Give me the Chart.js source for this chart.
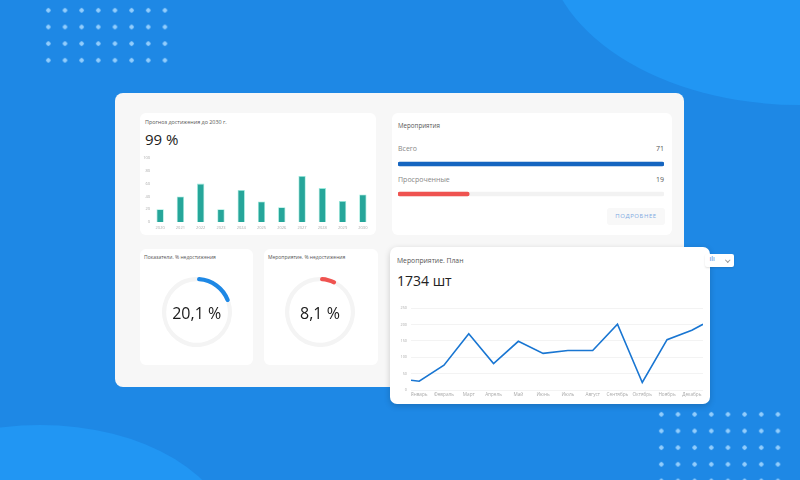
<!DOCTYPE html>
<html>
<head>
<meta charset="utf-8">
<script src="https://cdn.jsdelivr.net/npm/chart.js@4.4.0/dist/chart.umd.min.js"></script>
<style>
  html, body { margin: 0; padding: 0; }
  body { width: 800px; height: 480px; overflow: hidden; position: relative; background: #1e88e5; font-family: 'Open Sans', sans-serif; }
  .abs { position: absolute; }
  .blob { border-radius: 50%; background: #2196f3; }
  .dots { background-image: radial-gradient(circle, #92cdfc 1.9px, transparent 2.4px); background-size: 16.67px 16.67px; }
  .panel { left: 115px; top: 93px; width: 569px; height: 294px; background: #f7f7f7; border-radius: 8px; }
  .card { background: #fff; border-radius: 6px; }
  .txt { white-space: nowrap; line-height: 1.2; }
  canvas { position: absolute; }
</style>
</head>
<body>
<div class="abs blob" style="left:545px;top:-225px;width:510px;height:330px;"></div>
<div class="abs blob" style="left:-150px;top:425px;width:380px;height:230px;"></div>
<div class="abs dots" style="left:40px;top:2.4px;width:133.4px;height:66.7px;"></div>
<div class="abs dots" style="left:653.4px;top:405.7px;width:133.4px;height:83.4px;"></div>

<div class="abs panel"></div>
<div class="abs card" style="left:140px;top:113px;width:236px;height:122px;"></div>
<div class="abs card" style="left:392px;top:113px;width:280px;height:122px;"></div>
<div class="abs card" style="left:140px;top:249px;width:113px;height:116px;"></div>
<div class="abs card" style="left:264px;top:249px;width:114px;height:116px;"></div>
<div class="abs card" style="left:390px;top:247px;width:320px;height:157px;border-radius:7px;box-shadow:0 2px 6px rgba(0,0,0,0.18);"></div>

<!-- bar card -->
<div class="abs txt" style="left:145px;top:119px;font-size:5.4px;color:#555;">Прогноз достижения до 2030 г.</div>
<div class="abs txt" style="left:145px;top:130px;font-size:15px;color:#222;">99 %</div>
<canvas id="barChart" width="238" height="84" style="left:138px;top:150px;"></canvas>

<!-- events card -->
<div class="abs txt" style="left:398px;top:122px;font-size:6.2px;color:#555;">Мероприятия</div>
<div class="abs txt" id="lbl0" style="left:398px;top:145px;font-size:7px;color:#888;"></div>
<div class="abs txt" id="val0" style="left:600px;width:64px;text-align:right;top:145px;font-size:7px;color:#555;"></div>
<canvas id="prog0" width="266" height="6" style="left:398px;top:161px;"></canvas>
<div class="abs txt" id="lbl1" style="left:398px;top:175.5px;font-size:7px;color:#888;"></div>
<div class="abs txt" id="val1" style="left:600px;width:64px;text-align:right;top:175.5px;font-size:7px;color:#555;"></div>
<canvas id="prog1" width="266" height="6" style="left:398px;top:191px;"></canvas>
<div class="abs" style="left:607px;top:208px;width:58px;height:17px;background:#f8f8f8;border-radius:3px;"></div>
<div class="abs txt" style="left:607px;top:213px;width:58px;text-align:center;font-size:6px;color:#7eaae2;letter-spacing:0.6px;">ПОДРОБНЕЕ</div>

<!-- gauges -->
<div class="abs txt" id="gt0" style="left:144px;top:254px;font-size:5px;color:#555;"></div>
<div class="abs txt" id="gt1" style="left:268px;top:254px;font-size:5px;color:#555;"></div>
<canvas id="gauge0" width="70" height="70" style="left:161.7px;top:276.7px;"></canvas>
<canvas id="gauge1" width="70" height="70" style="left:285px;top:276.7px;"></canvas>
<div class="abs txt" id="gv0" style="left:146.7px;width:100px;text-align:center;top:303.5px;font-size:16px;color:#1a1a1a;"></div>
<div class="abs txt" id="gv1" style="left:270px;width:100px;text-align:center;top:303.5px;font-size:16px;color:#1a1a1a;"></div>

<!-- line card -->
<div class="abs txt" style="left:397px;top:256.5px;font-size:6.8px;color:#555;">Мероприятие. План</div>
<div class="abs txt" style="left:397px;top:273px;font-size:14px;color:#222;">1734 шт</div>
<canvas id="lineChart" width="314" height="98" style="left:395px;top:302px;"></canvas>
<div class="abs" style="left:705px;top:254px;width:29px;height:13px;background:#fff;border-radius:2px;box-shadow:0 1px 2px rgba(0,0,0,0.12);"></div>
<div class="abs txt" style="left:709.5px;top:254.5px;font-size:7px;color:#3f87dd;">ılı</div>
<div class="abs" style="left:726px;top:258px;width:2.5px;height:2.5px;border-right:0.8px solid #999;border-bottom:0.8px solid #999;transform:rotate(45deg);"></div>

<script>
const barYears = ['2020', '2021', '2022', '2023', '2024', '2025', '2026', '2027', '2028', '2029', '2030'];
const barValues = [20, 40, 60, 20, 50, 32, 23, 72, 53, 33, 43];

const progressLabels = ['Всего', 'Просроченные'];
const progressValues = [71, 19];
const progressTotal = 71;
const progressColors = ['#1565c0', '#ef5350'];

const gaugeTitles = ['Показатели. % недостижения', 'Мероприятие. % недостижения'];
const gaugeValues = [20.1, 8.1];
const gaugeColors = ['#1e88e5', '#ef5350'];

const months = ['Январь', 'Февраль', 'Март', 'Апрель', 'Май', 'Июнь', 'Июль', 'Август', 'Сентябрь', 'Октябрь', 'Ноябрь', 'Декабрь'];
const planX = [0.67, 1, 2, 3, 4, 5, 6, 7, 8, 9, 10, 11, 12, 12.45];
const planValues = [30, 27, 76, 172, 81, 149, 112, 121, 121, 201, 23, 154, 183, 201];

Chart.defaults.font.family = "'Open Sans', sans-serif";
Chart.defaults.animation = false;
const noPlugins = { legend: { display: false }, tooltip: { enabled: false } };

new Chart(document.getElementById('barChart'), {
  type: 'bar',
  data: {
    labels: barYears,
    datasets: [{
      data: barValues,
      backgroundColor: '#26a69a',
      borderColor: 'rgba(110,225,205,0.7)',
      borderWidth: 0.8,
      maxBarThickness: 7.3
    }]
  },
  options: {
    responsive: false,
    events: [],
    plugins: noPlugins,
    layout: { padding: { top: 8, right: 3, left: 0, bottom: 0 } },
    scales: {
      x: {
        grid: { display: false, drawTicks: false }, border: { display: false },
        ticks: { font: { size: 4 }, color: '#aaa', padding: 3, maxRotation: 0, autoSkip: false },
        afterFit: s => { s.height = 12; }
      },
      y: {
        min: 0, max: 100,
        grid: { display: false, drawTicks: false }, border: { display: false },
        ticks: { stepSize: 20, font: { size: 4 }, color: '#aaa', padding: 0 },
        afterFit: s => { s.width = 12; }
      }
    }
  }
});

progressValues.forEach((v, i) => {
  document.getElementById('lbl' + i).textContent = progressLabels[i];
  document.getElementById('val' + i).textContent = v;
  new Chart(document.getElementById('prog' + i), {
    type: 'bar',
    data: {
      labels: [progressLabels[i]],
      datasets: [
        { data: [v], backgroundColor: progressColors[i], borderRadius: 3, borderSkipped: false, barThickness: 4, grouped: false, order: 0 },
        { data: [progressTotal], backgroundColor: '#f2f2f2', borderRadius: 3, borderSkipped: false, barThickness: 4, grouped: false, order: 1 }
      ]
    },
    options: {
      indexAxis: 'y',
      responsive: false,
      events: [],
      plugins: noPlugins,
      layout: { padding: 0 },
      scales: {
        x: { display: false, min: 0, max: progressTotal },
        y: { display: false }
      }
    }
  });
});

gaugeValues.forEach((v, i) => {
  document.getElementById('gt' + i).textContent = gaugeTitles[i];
  document.getElementById('gv' + i).textContent = String(v).replace('.', ',') + ' %';
  new Chart(document.getElementById('gauge' + i), {
    type: 'doughnut',
    data: {
      datasets: [{
        data: [v, 100 - v],
        backgroundColor: [gaugeColors[i], '#f4f4f4'],
        borderWidth: 0,
        borderRadius: c => c.dataIndex === 0 ? 4 : 0
      }]
    },
    options: {
      responsive: false,
      cutout: '88%',
      events: [],
      plugins: noPlugins,
      layout: { padding: 0 }
    }
  });
});

new Chart(document.getElementById('lineChart'), {
  type: 'line',
  data: {
    datasets: [{
      data: planX.map((x, i) => ({ x: x, y: planValues[i] })),
      borderColor: '#1976d2',
      borderWidth: 1.6,
      pointRadius: 0,
      tension: 0,
      fill: false
    }]
  },
  options: {
    responsive: false,
    events: [],
    plugins: noPlugins,
    layout: { padding: { top: 4, right: 6, left: 0, bottom: 0 } },
    scales: {
      x: {
        type: 'linear',
        min: planX[0], max: planX[planX.length - 1],
        afterBuildTicks: s => { s.ticks = months.map((m, i) => ({ value: i + 1 })); },
        ticks: { callback: v => months[v - 1], font: { size: 4.7 }, color: '#aaa', padding: 2, maxRotation: 0, autoSkip: false },
        grid: { display: false, drawTicks: false }, border: { display: false },
        afterFit: s => { s.height = 10; }
      },
      y: {
        min: 0, max: 250,
        ticks: { stepSize: 50, font: { size: 3.8 }, color: '#aaa', padding: 4 },
        grid: { color: '#f3f3f3', drawTicks: false }, border: { display: false },
        afterFit: s => { s.width = 16; }
      }
    }
  }
});
</script>
</body>
</html>
